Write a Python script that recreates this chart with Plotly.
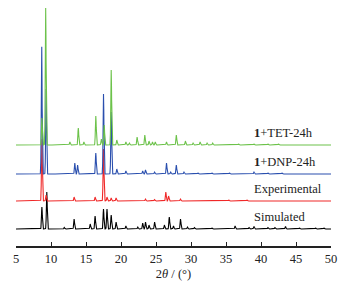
import numpy as np
import plotly.graph_objects as go

# Peak lists: position (2θ, °) and height (px-like units)
sim_pos = [8.7, 9.4, 11.9, 13.3, 15.6, 16.3, 17.5, 18.0, 18.6, 19.3, 20.7, 22.4, 23.1, 23.5, 24.0, 24.8,
           26.2, 26.9, 27.5, 28.5, 29.5, 30.5, 33.0, 36.3, 38.3, 39.0, 41.0, 42.0, 43.5, 45.5, 47.8, 49.0]
sim_h = [22, 37, 1.5, 10, 5, 13, 20, 20, 14, 7, 3, 2, 6, 7, 4, 7,
         4, 12, 3, 10, 2, 1.5, 1, 3, 1.5, 2.5, 1.5, 1.5, 2.5, 1, 1, 1]

exp_pos = [8.7, 9.3, 13.3, 16.3, 17.5, 18.0, 18.6, 19.3, 23.5, 24.8, 26.4, 26.8, 28.5, 35.4, 38.0]
exp_h = [62, 6, 4, 4, 52, 4, 3, 3, 2, 1.5, 9, 5, 2, 1, 1]

dnp_pos = [8.67, 9.3, 13.4, 13.8, 16.4, 17.5, 18.6, 19.4, 20.7, 23.1, 23.5, 24.8, 26.5, 27.1, 27.9,
           29.0, 31.0, 33.0, 35.5, 39.0, 41.0, 43.0]
dnp_h = [129, 85, 11, 9, 21, 80, 62, 5, 3, 3, 4, 2, 11, 2, 9, 2, 1, 1, 1, 2, 1, 1]

tet_pos = [8.7, 9.24, 12.7, 13.9, 14.7, 16.4, 17.2, 17.6, 18.6, 19.4, 20.7, 21.2, 22.3, 23.4, 24.0,
           24.5, 24.9, 26.5, 27.9, 29.2, 30.3, 31.3, 32.3, 33.1, 36.8, 39.0, 41.0, 42.5]
tet_h = [27, 137, 3, 17, 3, 29, 6, 20, 75, 5, 3, 2, 8, 10, 4,
         3, 3, 3, 10, 4, 2, 3, 2, 2, 1, 1, 1, 1]

offsets = [17, 45, 72, 101]
names = ["Simulated", "Experimental", "1+DNP-24h", "1+TET-24h"]
colors = ["#000000", "#f02828", "#2a4fae", "#6cc24a"]

x = np.arange(5.0, 50.0001, 0.02)


def profile(pos, h, base):
    y = np.full_like(x, float(base))
    for p, a in zip(pos, h):
        y += a * np.exp(-0.5 * ((x - p) / 0.06) ** 2)
    return y


series = [(sim_pos, sim_h), (exp_pos, exp_h), (dnp_pos, dnp_h), (tet_pos, tet_h)]

fig = go.Figure()
for (pos, h), off, c, n in zip(series, offsets, colors, names):
    fig.add_trace(go.Scatter(x=x, y=profile(pos, h, off), mode="lines",
                             line=dict(color=c, width=1.1), name=n, showlegend=False))

labels = ["Simulated", "Experimental", "<b>1</b>+DNP-24h", "<b>1</b>+TET-24h"]
label_y = [29, 57, 84, 113]
for t, yy in zip(labels, label_y):
    fig.add_annotation(x=38.7, y=yy, text=t, showarrow=False, xanchor="left", yanchor="middle",
                       font=dict(family="Liberation Serif", size=12.5, color="#222"))

fig.update_layout(
    width=340, height=277,
    margin=dict(l=8, r=17, t=0, b=39),
    paper_bgcolor="white", plot_bgcolor="white",
    font=dict(family="Liberation Serif", size=12.5, color="#222"),
    xaxis=dict(range=[5, 50], tickmode="linear", tick0=5, dtick=5, ticks="inside", ticklen=4,
               tickwidth=1.2, tickcolor="#222", showline=True, linecolor="#222", linewidth=1.5,
               showgrid=False, zeroline=False,
               title=dict(text="2<i>θ</i> / (°)", standoff=4, font=dict(size=12.5))),
    yaxis=dict(range=[0, 238], visible=False, showgrid=False, zeroline=False),
)

fig.write_html("out.html")
